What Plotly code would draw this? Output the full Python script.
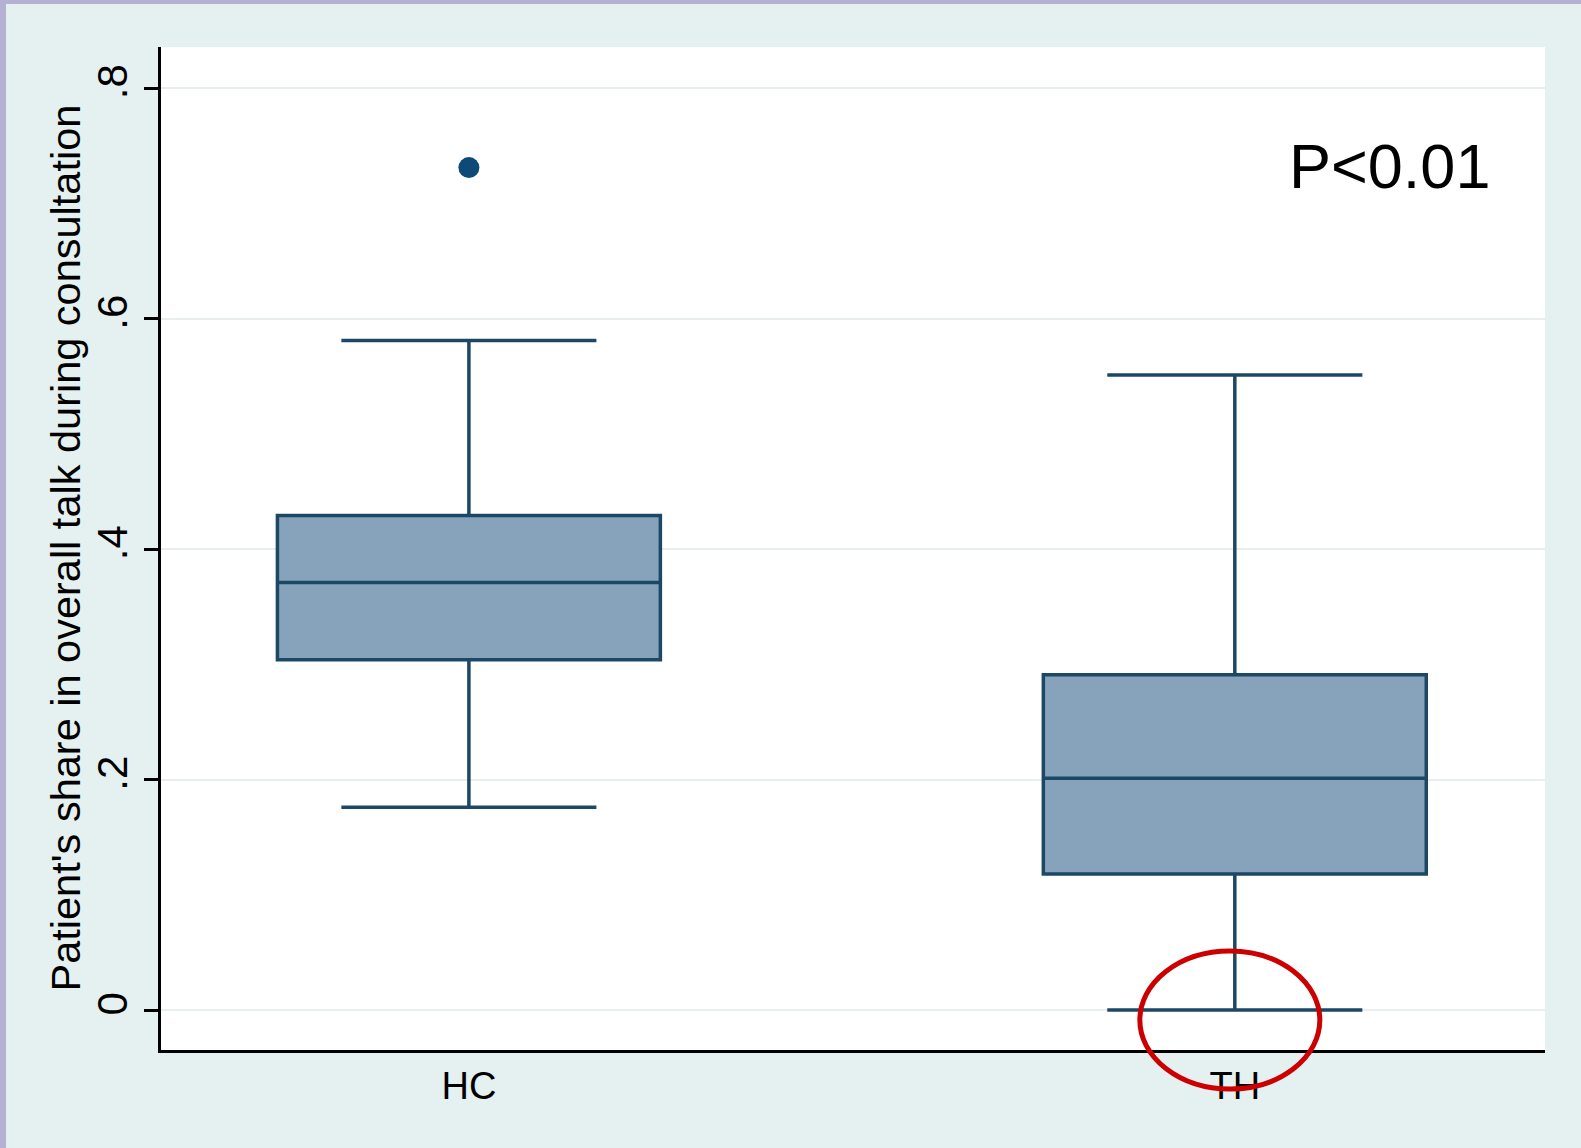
import plotly.graph_objects as go

# ---- data ----
groups = ["HC", "TH"]
group_pos = [0, 1]
q1 = [0.304, 0.118]
median = [0.371, 0.201]
q3 = [0.429, 0.291]
lower_whisker = [0.176, 0.0]
upper_whisker = [0.581, 0.551]
outlier_group = [0]
outlier_value = [0.731]

y_tickvals = [0, 0.2, 0.4, 0.6, 0.8]
y_ticktext = ["0", ".2", ".4", ".6", ".8"]

# ---- layout constants ----
W, H = 1581, 1148
ML, MR, MT, MB = 161, 36, 47, 98
XR = [-0.402, 1.405]
YR = [-0.0347, 0.8356]

PW = W - ML - MR
PH = H - MT - MB

def px_to_paper_x(px):
    return (px - ML) / PW

def px_to_paper_y(py):
    return (H - MB - py) / PH

def data_to_paper_x(x):
    return (x - XR[0]) / (XR[1] - XR[0])

def data_to_paper_y(y):
    return (y - YR[0]) / (YR[1] - YR[0])

fill_col = "#86a3bb"
line_col = "#1c4866"
FONT = "Liberation Sans, Arial, sans-serif"

fig = go.Figure()
for i in range(len(groups)):
    fig.add_trace(go.Box(
        x=[group_pos[i]],
        q1=[q1[i]], median=[median[i]], q3=[q3[i]],
        lowerfence=[lower_whisker[i]], upperfence=[upper_whisker[i]],
        width=0.5, whiskerwidth=0.666,
        fillcolor=fill_col,
        line=dict(color=line_col, width=3.5),
        boxpoints=False, showlegend=False, hoverinfo="skip",
    ))

fig.add_trace(go.Scatter(
    x=outlier_group, y=outlier_value, mode="markers",
    marker=dict(color="#0d4a78", size=21),
    showlegend=False, hoverinfo="skip",
))

shapes = []
# outer purple border (top and left)
shapes.append(dict(type="rect", xref="paper", yref="paper", layer="above",
                   x0=px_to_paper_x(0), x1=px_to_paper_x(W),
                   y0=px_to_paper_y(4), y1=px_to_paper_y(0),
                   fillcolor="#b4b1d2", line=dict(width=0)))
shapes.append(dict(type="rect", xref="paper", yref="paper", layer="above",
                   x0=px_to_paper_x(0), x1=px_to_paper_x(6),
                   y0=px_to_paper_y(H), y1=px_to_paper_y(0),
                   fillcolor="#b4b1d2", line=dict(width=0)))
# red highlight ellipse around TH lower whisker
ell_cx, ell_cy, ell_rx, ell_ry = 0.9935, -0.0087, 0.1175, 0.0599
shapes.append(dict(type="circle", xref="paper", yref="paper", layer="above",
                   x0=data_to_paper_x(ell_cx - ell_rx), x1=data_to_paper_x(ell_cx + ell_rx),
                   y0=data_to_paper_y(ell_cy - ell_ry), y1=data_to_paper_y(ell_cy + ell_ry),
                   line=dict(color="#cc0000", width=5)))

fig.update_layout(
    width=W, height=H,
    margin=dict(l=ML, r=MR, t=MT, b=MB, pad=0),
    paper_bgcolor="#e5f0f0",
    plot_bgcolor="#ffffff",
    shapes=shapes,
    showlegend=False,
    annotations=[
        dict(x=1.202, y=0.732, xref="x", yref="y", text="P<0.01",
             showarrow=False, xanchor="center", yanchor="middle",
             font=dict(family=FONT, size=63, color="#000000")),
        dict(x=px_to_paper_x(65), y=0.5, xref="paper", yref="paper",
             text="Patient's share in overall talk during consultation",
             textangle=-90, showarrow=False, xanchor="center", yanchor="middle",
             font=dict(family=FONT, size=41.5, color="#000000")),
    ],
)

fig.update_xaxes(
    range=XR, tickvals=group_pos, ticktext=groups,
    showgrid=False, zeroline=False,
    showline=True, linecolor="#000000", linewidth=3,
    ticks="", ticklabelstandoff=0,
    tickfont=dict(family=FONT, size=38, color="#000000"),
)
fig.update_yaxes(
    range=YR, tickvals=y_tickvals, ticktext=y_ticktext,
    showgrid=True, gridcolor="#e8eeee", gridwidth=2, zeroline=False,
    showline=True, linecolor="#000000", linewidth=3,
    ticks="outside", ticklen=14, tickwidth=3, tickcolor="#000000",
    tickangle=-90, ticklabelstandoff=0,
    tickfont=dict(family=FONT, size=42, color="#000000"),
)

fig.write_html(
    "out.html",
    config={"displayModeBar": False},
    post_script="document.body.style.margin='0';document.body.style.overflow='hidden';",
)
